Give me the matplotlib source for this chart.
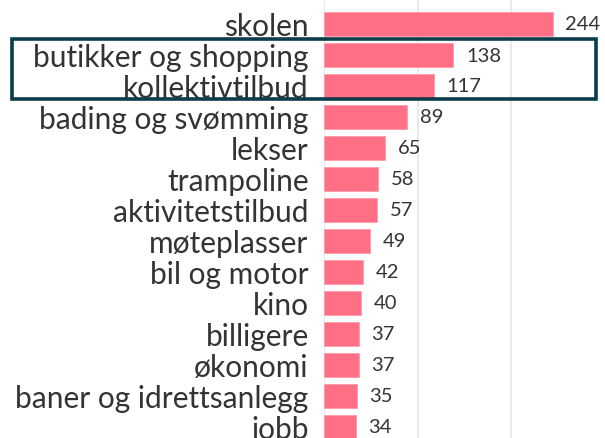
import matplotlib
matplotlib.use("Agg")
import matplotlib.pyplot as plt
from matplotlib.patches import Rectangle

# data
kategorier = ["skolen", "butikker og shopping", "kollektivtilbud", "bading og svømming",
              "lekser", "trampoline", "aktivitetstilbud", "møteplasser", "bil og motor",
              "kino", "billigere", "økonomi", "baner og idrettsanlegg", "jobb"]
antall = [244, 138, 117, 89, 65, 58, 57, 49, 42, 40, 37, 37, 35, 34]

plt.rcParams['font.family'] = ['Lato', 'DejaVu Sans']

W, H = 605, 439
fig = plt.figure(figsize=(W / 100, H / 100), dpi=100)

# aksen går litt ut under bildet, som i originalen
ax = fig.add_axes([324 / W, -4.5 / H, (W - 324) / W, (H + 4.5) / H])

pos = list(range(len(kategorier)))
ax.barh(pos, antall, height=0.77, color="#FF6F86", edgecolor="#FF9AAA", linewidth=0.6, zorder=2)

for p, v in zip(pos, antall):
    ax.text(v + 13.5, p, str(v), va="center", ha="left", fontsize=14.5, color="#333333")

ax.set_xlim(0, 300)
ax.set_ylim(13.5, -0.5 - 9.5 / 31)
ax.set_xticks([0, 100, 200])
ax.xaxis.grid(True, color="#E6E6E6", linewidth=1.2, zorder=0)
ax.tick_params(axis="x", length=0, labelbottom=False)
ax.set_yticks(pos)
ax.set_yticklabels(kategorier, fontsize=21.5, color="#333333")
ax.tick_params(axis="y", length=0, pad=11)
for s in ax.spines.values():
    s.set_visible(False)

# markering rundt to rader
fig.patches.append(Rectangle((12 / W, 1 - 100 / H), (596 - 12) / W, 60 / H,
                             transform=fig.transFigure, fill=False,
                             edgecolor="#0B3D4C", linewidth=2.6, zorder=5))

fig.savefig("out.png", dpi=100)
